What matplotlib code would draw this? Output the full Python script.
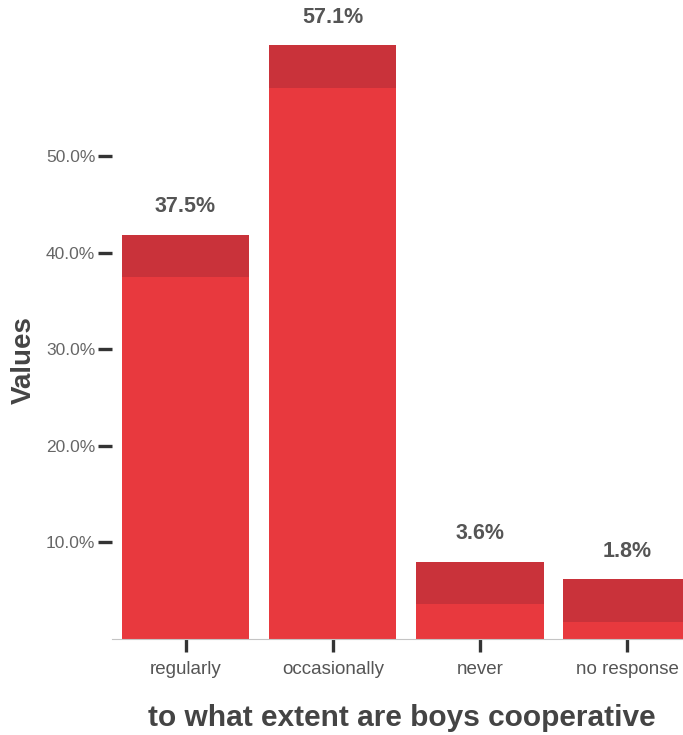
import matplotlib
matplotlib.use("Agg")
import matplotlib.pyplot as plt
from matplotlib.ticker import FuncFormatter

categories = ["regularly", "occasionally", "never", "no response"]
values = [37.5, 57.1, 3.6, 1.8]
labels = ["37.5%", "57.1%", "3.6%", "1.8%"]
yticks = [10, 20, 30, 40, 50]

CAP = 4.4  # height of the darker "top face" band
FRONT = "#e8393e"
TOP = "#c9323a"

plt.rcParams['font.family'] = ['Liberation Sans', 'DejaVu Sans']

fig = plt.figure(figsize=(6.83, 7.35), dpi=100)
ax = fig.add_axes([0.164, 0.1306, 0.836, 0.8694])

x = list(range(len(categories)))
ax.bar(x, values, width=0.865, color=FRONT, linewidth=0)
ax.bar(x, [CAP] * len(values), bottom=values, width=0.865, color=TOP, linewidth=0)

for xi, v, lab in zip(x, values, labels):
    ax.text(xi, v + CAP + 1.8, lab, ha="center", va="bottom",
            fontsize=15.5, fontweight="bold", color="#555555")

ax.set_xlim(-0.5, 3.38)
ax.set_ylim(0, 66.2)
ax.set_yticks(yticks)
ax.yaxis.set_major_formatter(FuncFormatter(lambda v, p: f"{v:.1f}%"))
ax.set_xticks(x)
ax.set_xticklabels(categories)

for s in ["top", "right", "left"]:
    ax.spines[s].set_visible(False)
ax.spines["bottom"].set_color("#c4c4c4")
ax.spines["bottom"].set_linewidth(0.8)

ax.tick_params(axis="y", length=10, width=2.4, color="#333333", pad=2,
               labelsize=12.5, labelcolor="#666666")
ax.tick_params(axis="x", length=9, width=2.4, color="#333333", pad=7,
               labelsize=13.5, labelcolor="#555555")

ax.set_ylabel("Values", fontsize=20, fontweight="bold", color="#444444")
ax.set_xlabel("to what extent are boys cooperative", fontsize=21.5,
              fontweight="bold", color="#444444")
ax.yaxis.label.set_va("center")
ax.xaxis.label.set_va("center")
ax.yaxis.set_label_coords(-0.155, 0.437)
ax.xaxis.set_label_coords(0.508, -0.124)

fig.savefig("out.png", dpi=100)
